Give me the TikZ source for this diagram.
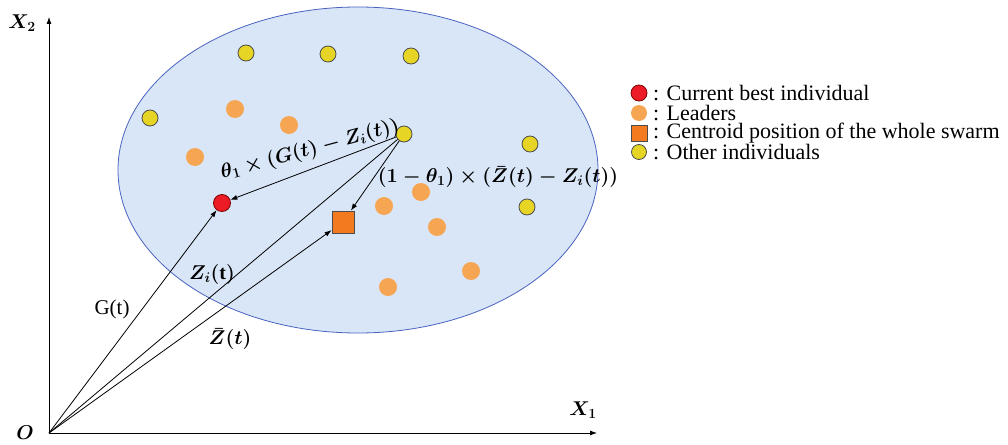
\RequirePackage{fix-cm}
\documentclass[tikz,border=0pt]{standalone}
\usepackage{fontspec}
\setmainfont{Liberation Serif}
\usepackage{tikz}
\usetikzlibrary{arrows.meta}

\definecolor{swarmfill}{HTML}{D9E6F7}
\definecolor{swarmline}{HTML}{4A63C0}
\definecolor{otherfill}{HTML}{E6D524}
\definecolor{leaderfill}{HTML}{F6A552}
\definecolor{bestfill}{HTML}{EC1C26}
\definecolor{centfill}{HTML}{F47A20}

\begin{document}
\begin{tikzpicture}[x=1pt,y=-1pt,
  >={Latex[length=7pt,width=5pt]},
  every node/.style={font=\fontsize{21}{24}\selectfont},
  mathlab/.style={font=\fontsize{20}{24}\selectfont\boldmath},
  other/.style={circle,draw=black!70,fill=otherfill,line width=0.8pt,minimum size=16pt,inner sep=0pt},
  leader/.style={circle,fill=leaderfill,minimum size=18pt,inner sep=0pt},
  best/.style={circle,draw=red!50!black,fill=bestfill,line width=0.8pt,minimum size=17pt,inner sep=0pt},
  centroid/.style={rectangle,draw=black!70,fill=centfill,line width=0.8pt,minimum size=22pt,inner sep=0pt},
  legtext/.style={anchor=west,inner sep=0pt,font=\fontsize{22}{24}\selectfont}]
\useasboundingbox (0,0) rectangle (1008,444);
% swarm region
\draw[swarmline,fill=swarmfill,line width=0.8pt] (358,170) ellipse [x radius=240, y radius=163];
% axes
\coordinate (O) at (49,433);
\coordinate (x1end) at (597,433);
\coordinate (x2end) at (49,17);
\draw[->,line width=0.8pt] (O) -- (x2end);
\draw[->,line width=0.8pt] (O) -- (x1end);
\node[mathlab] (olab) at (25,433) {$O$};
\node[mathlab] (x1lab) at (583,410) {$X_1$};
\node[mathlab] (x2lab) at (22,23) {$X_2$};
% individuals
\foreach \x/\y [count=\k] in {246/53, 328/54, 411/56, 150/118, 530/144, 527/207}
  \node[other] (o\k) at (\x,\y) {};
\node[other] (zi) at (404,134) {};
\foreach \x/\y [count=\k] in {235/109, 289/125, 195/157, 421/192, 384/206, 437/227, 471/271, 388/287}
  \node[leader] (l\k) at (\x,\y) {};
\node[best] (gt) at (222,203) {};
\node[centroid] (zbar) at (343,222) {};
% vectors
\draw[->,line width=0.8pt] (O) -- (gt);
\draw[line width=0.8pt] (O) -- (zi);
\draw[->,line width=0.8pt] (O) -- (zbar);
\draw[->,line width=0.8pt] (zi) -- (gt);
\draw[->,line width=0.8pt] (zi) -- (zbar);
\node (glab) at (112,309) {G(t)};
\node[mathlab] (zilab) at (212,274) {$Z_i(\mathrm{t})$};
\node[mathlab] (zbarlab) at (230,339) {$\bar{Z}(t)$};
\node[mathlab,rotate=15] (toglab) at (310,150) {$\theta_1\times(G(t)-Z_i(t))$};
\node[mathlab] (tozbarlab) at (498,177) {$(1-\theta_1)\times(\bar{Z}(t)-Z_i(t))$};
% legend
\node[best,minimum size=16pt] (kbest) at (639,93) {};
\node[leader,minimum size=16pt] (klead) at (639,113) {};
\node[centroid,minimum size=16pt] (kcent) at (639,133) {};
\node[other,minimum size=15pt] (kother) at (639,152) {};
\node[legtext] (tbest) at (653,93) {: Current best individual};
\node[legtext] (tlead) at (653,113) {: Leaders};
\node[legtext] (tcent) at (653,133) {: Centroid position of the whole swarm};
\node[legtext] (tother) at (653,152) {: Other individuals};
\end{tikzpicture}
\end{document}
